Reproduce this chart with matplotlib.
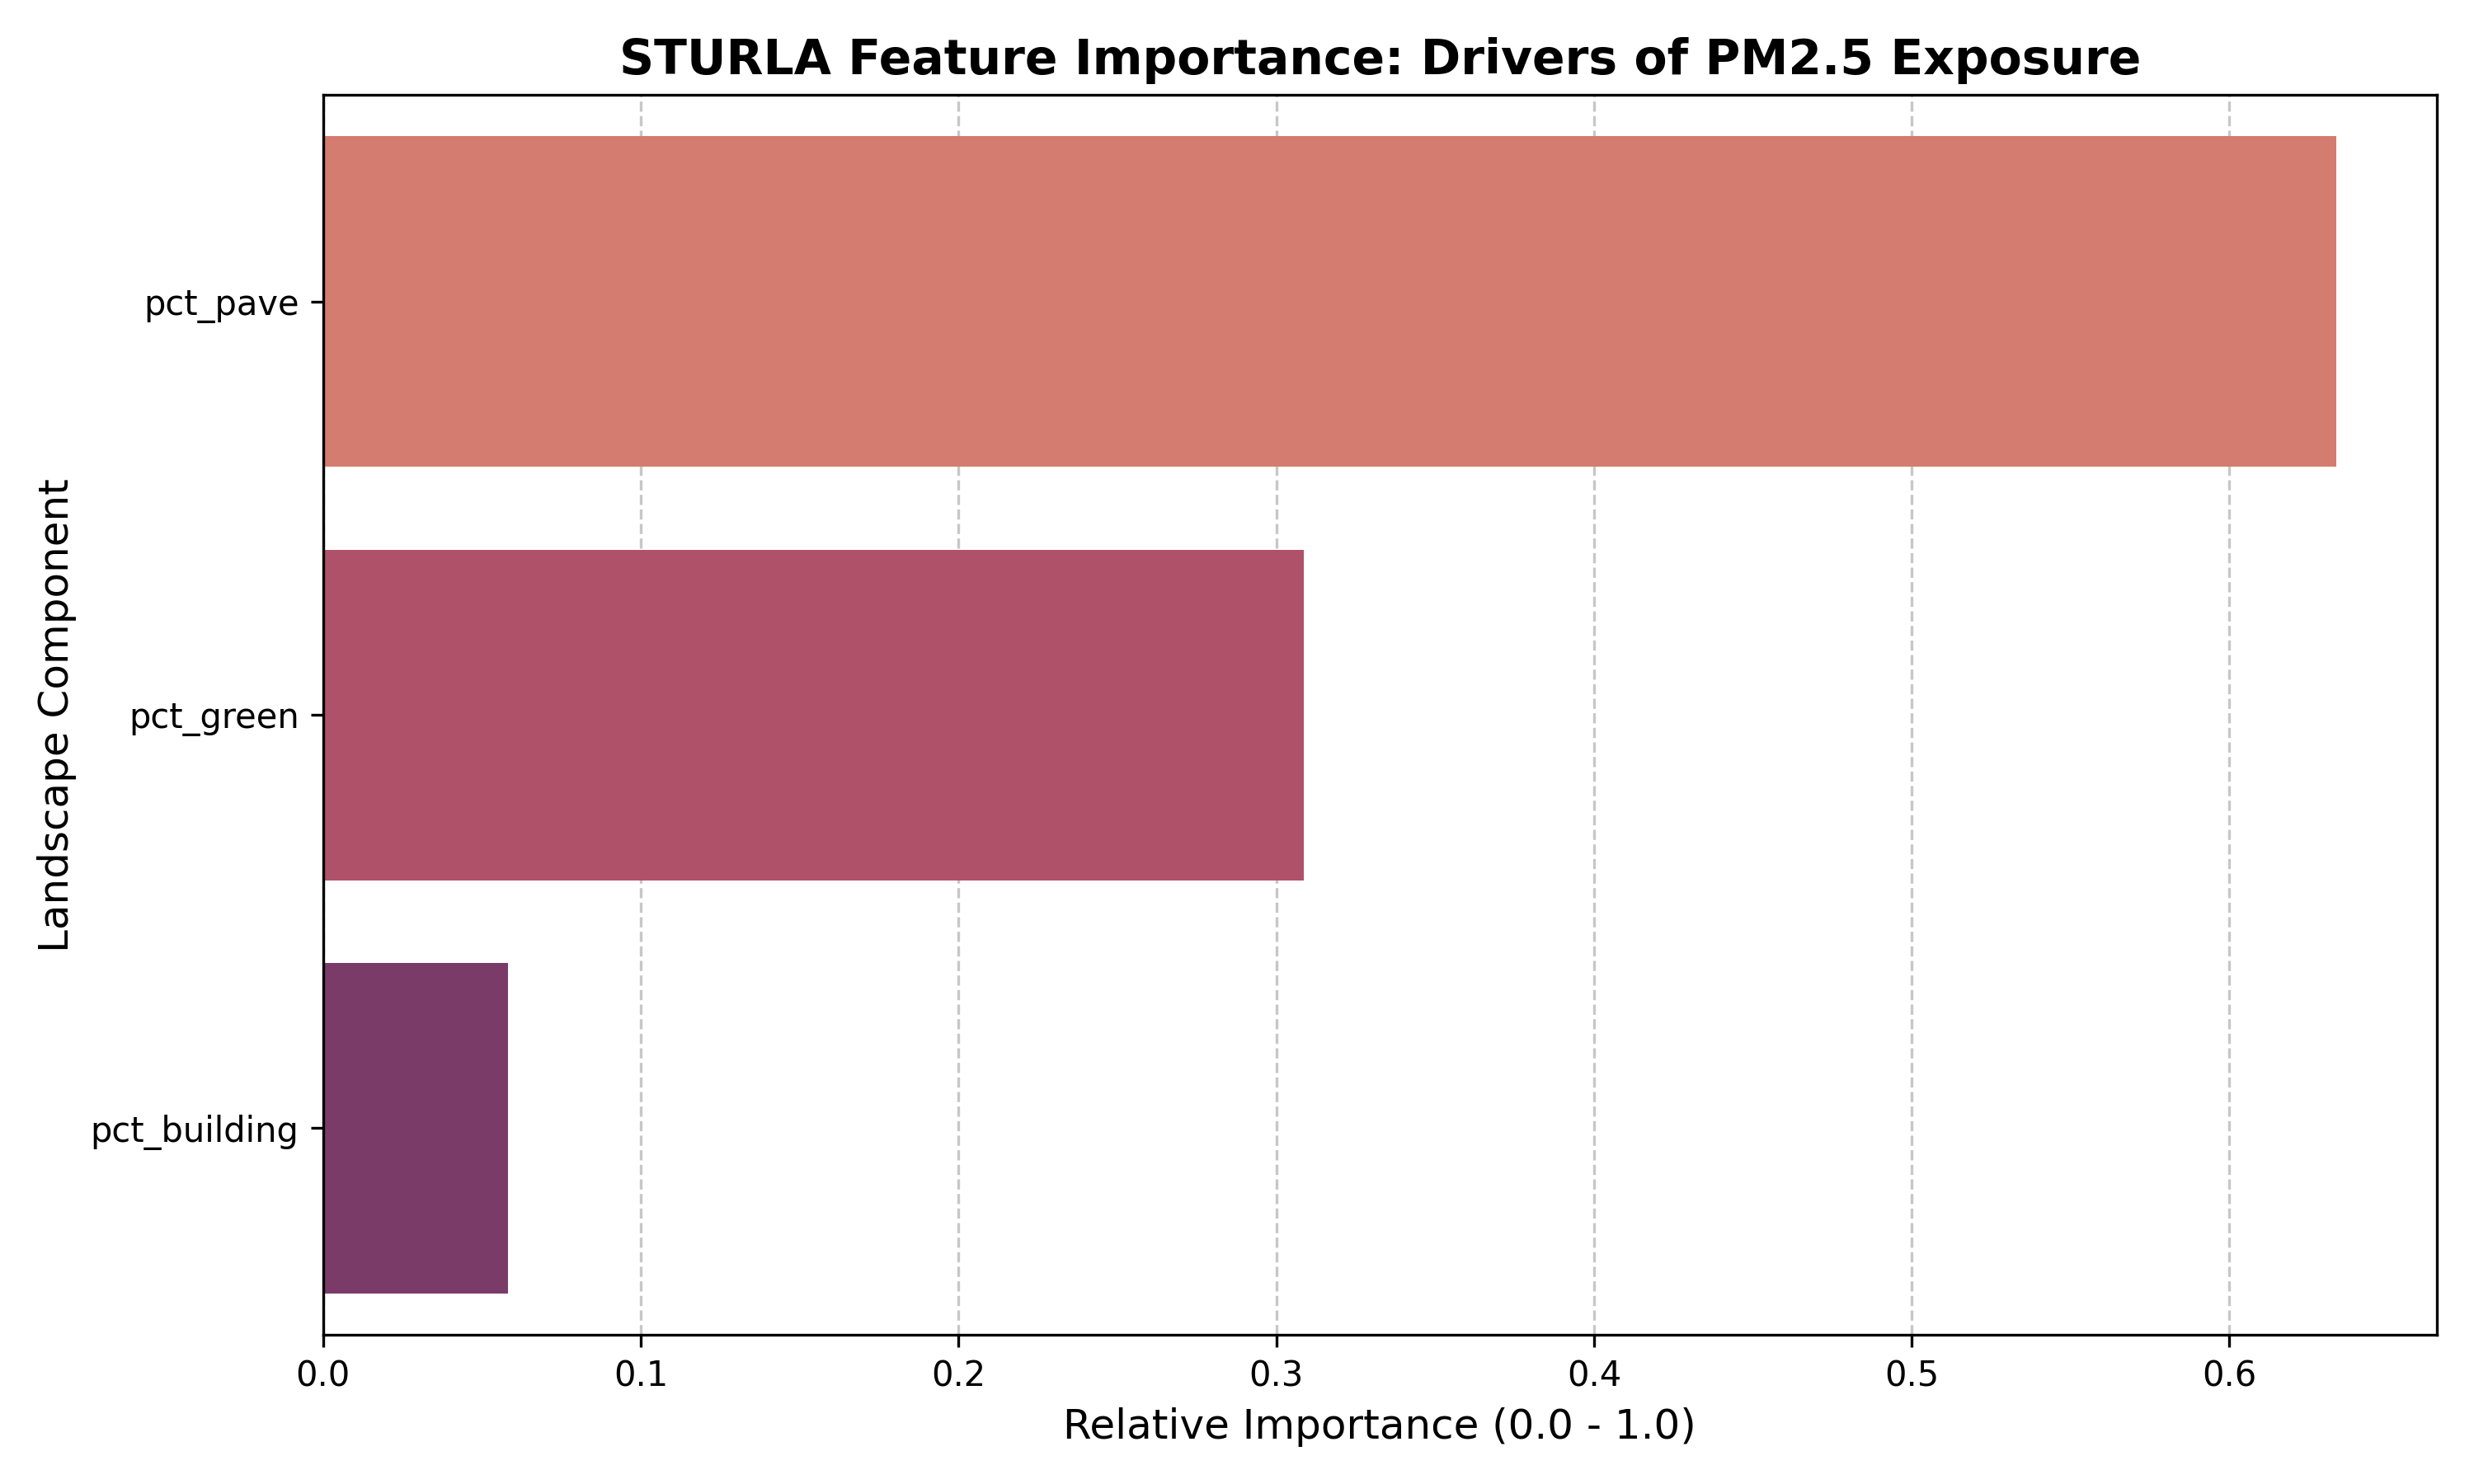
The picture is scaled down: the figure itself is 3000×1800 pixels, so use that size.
import matplotlib
matplotlib.use("Agg")
from matplotlib import pyplot as plt

features = ["pct_pave", "pct_green", "pct_building"]
importance = [0.6336, 0.3087, 0.0581]
colors = ["#d47c6f", "#b0516a", "#7b3b69"]

fig, ax = plt.subplots(figsize=(10, 6), dpi=300)
ax.barh(features, importance, height=0.8, color=colors, zorder=2)
ax.set_ylim(2.5, -0.5)
ax.grid(axis="x", linestyle="--", alpha=0.7, zorder=0)
ax.set_title("STURLA Feature Importance: Drivers of PM2.5 Exposure",
             fontsize=14, fontweight="bold")
ax.set_xlabel("Relative Importance (0.0 - 1.0)", fontsize=12)
ax.set_ylabel("Landscape Component", fontsize=12)
plt.tight_layout()
plt.savefig("out.png")
